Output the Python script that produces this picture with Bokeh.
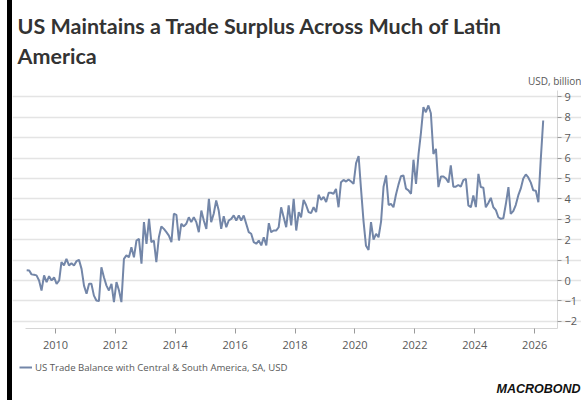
import pandas as pd
from bokeh.plotting import figure
from bokeh.models import (Range1d, FixedTicker, DatetimeTickFormatter, Label,
                          Legend, LegendItem)
from bokeh.embed import file_html
from bokeh.resources import INLINE

title_lines = ["US Maintains a Trade Surplus Across Much of Latin", "America"]
unit_label = "USD, billion"
series_name = "US Trade Balance with Central & South America, SA, USD"
source_label = "MACROBOND"

first_month = "2009-01-01"
# monthly values, USD billion
bal_2009 = [0.50, 0.49, 0.30, 0.28, 0.25, 0.00, -0.49, 0.25, -0.08, 0.21, 0.00, 0.16]
bal_2010 = [-0.16, 0.00, 0.90, 0.74, 1.06, 0.74, 0.85, 0.74, 0.95, 1.01, 0.57, -0.25]
bal_2011 = [-0.65, -0.16, -0.16, -0.74, -0.98, -1.01, 0.65, 0.16, -0.25, -0.49, -0.16, -1.06]
bal_2012 = [-0.08, -0.49, -1.06, 1.06, 1.23, 1.14, 1.63, 1.14, 1.96, 2.04, 0.82, 2.86]
bal_2013 = [1.80, 3.02, 1.88, 1.96, 0.90, 2.12, 2.65, 2.53, 2.37, 2.20, 1.88, 3.27]
bal_2014 = [3.22, 1.96, 2.78, 2.65, 2.78, 3.10, 2.86, 3.10, 2.86, 2.37, 3.43, 2.94]
bal_2015 = [2.53, 4.00, 2.86, 3.27, 3.92, 3.43, 2.53, 3.15, 2.61, 2.94, 3.02, 3.19]
bal_2016 = [2.94, 3.19, 2.94, 3.19, 2.78, 2.37, 2.29, 1.88, 1.80, 1.96, 1.72, 2.12]
bal_2017 = [1.72, 2.81, 2.37, 2.45, 2.45, 2.61, 3.59, 3.10, 2.61, 3.68, 2.70, 4.00]
bal_2018 = [2.45, 3.35, 3.10, 3.95, 3.70, 3.35, 3.30, 3.59, 3.35, 4.20, 3.95, 4.10]
bal_2019 = [3.85, 4.30, 4.30, 4.25, 4.49, 3.59, 4.82, 4.93, 4.85, 4.95, 4.85, 4.74]
bal_2020 = [5.75, 6.10, 4.50, 2.90, 1.70, 1.50, 2.86, 2.00, 2.29, 2.12, 2.90, 4.60]
bal_2021 = [5.15, 3.70, 3.76, 3.59, 4.20, 4.70, 5.11, 5.15, 4.50, 4.42, 4.25, 5.92]
bal_2022 = [4.74, 6.21, 7.20, 8.50, 8.25, 8.58, 8.20, 6.20, 6.45, 4.58, 5.10, 5.10]
bal_2023 = [5.00, 4.80, 5.64, 4.60, 4.60, 4.68, 4.60, 4.92, 4.98, 3.68, 3.59, 4.17]
bal_2024 = [3.60, 5.23, 4.58, 4.55, 3.59, 3.80, 4.05, 3.59, 3.45, 3.10, 3.02, 3.05]
bal_2025 = [3.76, 4.58, 3.27, 3.40, 3.70, 4.17, 4.50, 5.00, 5.20, 5.05, 4.80, 4.42]
bal_2026 = [4.40, 3.84, 5.85, 7.84]

balance = (bal_2009 + bal_2010 + bal_2011 + bal_2012 + bal_2013 + bal_2014 +
           bal_2015 + bal_2016 + bal_2017 + bal_2018 + bal_2019 + bal_2020 +
           bal_2021 + bal_2022 + bal_2023 + bal_2024 + bal_2025 + bal_2026)

tick_years = [2010, 2012, 2014, 2016, 2018, 2020, 2022, 2024, 2026]
y_ticks = [-2, -1, 0, 1, 2, 3, 4, 5, 6, 7, 8, 9]

dates = pd.date_range(first_month, periods=len(balance), freq="MS") + pd.Timedelta(days=14)


def ms(ts):
    return pd.Timestamp(ts).value / 1e6


# plot-area extent (data units)
area_x0, area_x1 = ms("2009-01-01"), ms("2026-10-05")
area_y0, area_y1 = -2.36, 9.31

TEXT = "#595959"
FONT = "Open Sans"

p = figure(width=574, height=400, x_axis_type="datetime", y_axis_location="right",
           output_backend="svg", toolbar_location=None, title=None,
           x_range=Range1d(ms("2008-07-26"), ms("2027-09-25")),
           y_range=Range1d(-5.882, 13.725),
           min_border=0, min_border_left=0, min_border_right=0,
           min_border_top=0, min_border_bottom=0,
           styles={"margin-left": "7px", "border-left": "5px solid black"})

r = p.line(dates, balance, line_color="#7386a8", line_width=2)

p.outline_line_color = None
p.background_fill_color = "white"
p.border_fill_color = "white"
p.xgrid.visible = False
p.ygrid.ticker = FixedTicker(ticks=y_ticks)
p.ygrid.grid_line_color = "#e4e4e4"
p.ygrid.grid_line_width = 1.3
p.ygrid.bounds = (area_x0, area_x1)

xa = p.xaxis[0]
xa.ticker = FixedTicker(ticks=[ms(f"{y}-01-01") for y in tick_years])
xa.formatter = DatetimeTickFormatter(years="%Y", months="%Y", days="%Y", hours="%Y")
xa.fixed_location = area_y0
xa.bounds = (area_x0, area_x1)
ya = p.yaxis[0]
ya.ticker = FixedTicker(ticks=y_ticks)
ya.fixed_location = area_x1
ya.bounds = (area_y0, area_y1)
for ax in (xa, ya):
    ax.axis_line_color = "#d6d6d6"
    ax.major_tick_line_color = "#9a9a9a"
    ax.minor_tick_line_color = None
    ax.major_tick_in = 0
    ax.major_label_text_color = TEXT
    ax.major_label_text_font = FONT
    ax.major_label_text_font_size = "11px"
xa.major_tick_out = 5
xa.major_label_standoff = 7
ya.major_tick_out = 4
ya.major_label_standoff = 3

# texts, in px from the plot's bottom-left corner (y = visual middle)
p.add_layout(Label(x=5, y=375, x_units="screen", y_units="screen", text=title_lines[0],
                   text_font="Lato", text_font_style="bold", text_font_size="21.5px",
                   text_color="#333333", text_baseline="middle"))
p.add_layout(Label(x=5, y=345, x_units="screen", y_units="screen", text=title_lines[1],
                   text_font="Lato", text_font_style="bold", text_font_size="21.5px",
                   text_color="#333333", text_baseline="middle"))
p.add_layout(Label(x=569, y=320, x_units="screen", y_units="screen", text=unit_label,
                   text_font=FONT, text_font_size="10px", text_color=TEXT,
                   text_align="right", text_baseline="middle"))
p.add_layout(Label(x=568, y=12, x_units="screen", y_units="screen", text=source_label,
                   text_font="Liberation Sans", text_font_style="bold italic",
                   text_font_size="12.5px", text_color="#111111", text_align="right",
                   text_baseline="middle"))

legend = Legend(items=[LegendItem(label=series_name, renderers=[r])],
                location=(7, 26), orientation="horizontal",
                background_fill_alpha=0, border_line_color=None,
                padding=0, margin=0, spacing=0, label_standoff=3,
                glyph_width=13, glyph_height=14, label_height=14,
                label_text_font=FONT, label_text_font_size="9.6px",
                label_text_color=TEXT)
p.add_layout(legend, "center")

open("out.html", "w").write(file_html(p, INLINE))
